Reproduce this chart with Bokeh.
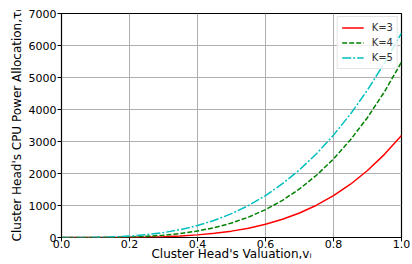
from bokeh.plotting import figure
from bokeh.models import Range1d, FixedTicker, Legend, LegendItem, PrintfTickFormatter
from bokeh.embed import file_html
from bokeh.resources import INLINE

v = [0.0, 0.05, 0.1, 0.15, 0.2, 0.25, 0.3, 0.35, 0.4, 0.45, 0.5,
     0.55, 0.6, 0.65, 0.7, 0.75, 0.8, 0.85, 0.9, 0.95, 1.0]
k3 = [0, 0, 0.3, 1.6, 5, 12, 26, 48, 82, 131, 199,
      292, 413, 569, 766, 1009, 1307, 1665, 2093, 2598, 3190]
k4 = [0, 0.1, 1.4, 5.9, 17, 37, 72, 125, 202, 309, 452,
      637, 871, 1162, 1518, 1945, 2455, 3053, 3751, 4556, 5480]
k5 = [0, 0.6, 5, 18, 43, 87, 153, 247, 373, 537, 745,
      1001, 1311, 1682, 2115, 2618, 3199, 3860, 4609, 5451, 6390]
labels = ["K=3", "K=4", "K=5"]
x_ticks = [0.0, 0.2, 0.4, 0.6, 0.8, 1.0]
y_ticks = [0, 1000, 2000, 3000, 4000, 5000, 6000, 7000]

FONT = "DejaVu Sans"

p = figure(width=412, height=264, output_backend="svg", toolbar_location=None,
           x_range=Range1d(0, 1), y_range=Range1d(0, 7000),
           min_border_left=61, min_border_right=11, min_border_top=13, min_border_bottom=27)
p.outline_line_color = "black"
p.outline_line_width = 1.2
p.background_fill_color = "white"
p.border_fill_color = "white"

for ax in (p.xaxis[0], p.yaxis[0]):
    ax.axis_line_color = None
    ax.major_tick_out = 4
    ax.major_tick_in = 0
    ax.minor_tick_out = 0
    ax.minor_tick_in = 0
    ax.major_tick_line_color = "black"
    ax.major_label_text_font = FONT
    ax.major_label_text_font_size = "11px"
    ax.major_label_text_color = "black"
    ax.axis_label_text_font = FONT
    ax.axis_label_text_font_size = "12px"
    ax.axis_label_text_font_style = "normal"
    ax.axis_label_text_color = "black"

p.xaxis[0].ticker = FixedTicker(ticks=x_ticks)
p.xaxis[0].formatter = PrintfTickFormatter(format="%.1f")
p.yaxis[0].ticker = FixedTicker(ticks=y_ticks)
p.xaxis[0].major_label_standoff = -2
p.yaxis[0].major_label_standoff = 1
p.xaxis[0].axis_label_standoff = -4
p.yaxis[0].axis_label_standoff = 2
p.xaxis[0].axis_label = "Cluster Head's Valuation,vᵢ"
p.yaxis[0].axis_label = "Cluster Head's CPU Power Allocation,τᵢ"

p.grid.grid_line_color = "#b0b0b0"
p.grid.grid_line_width = 1

r3 = p.line(v, k3, line_color="#ff0000", line_width=1.5)
r4 = p.line(v, k4, line_color="#008000", line_width=1.5, line_dash="5 2")
r5 = p.line(v, k5, line_color="#00bfbf", line_width=1.5, line_dash="9 2 2 2")

legend = Legend(items=[LegendItem(label=labels[0], renderers=[r3]),
                       LegendItem(label=labels[1], renderers=[r4]),
                       LegendItem(label=labels[2], renderers=[r5])],
                location="top_right")
legend.label_text_font = FONT
legend.label_text_font_size = "10px"
legend.label_text_color = "#333333"
legend.border_line_color = "#cccccc"
legend.border_line_width = 1
legend.background_fill_alpha = 0.8
legend.glyph_width = 22
legend.glyph_height = 13
legend.label_height = 13
legend.spacing = 2
legend.padding = 4
legend.margin = 3
legend.label_standoff = 8
p.add_layout(legend)

open("out.html", "w").write(file_html(p, INLINE))
